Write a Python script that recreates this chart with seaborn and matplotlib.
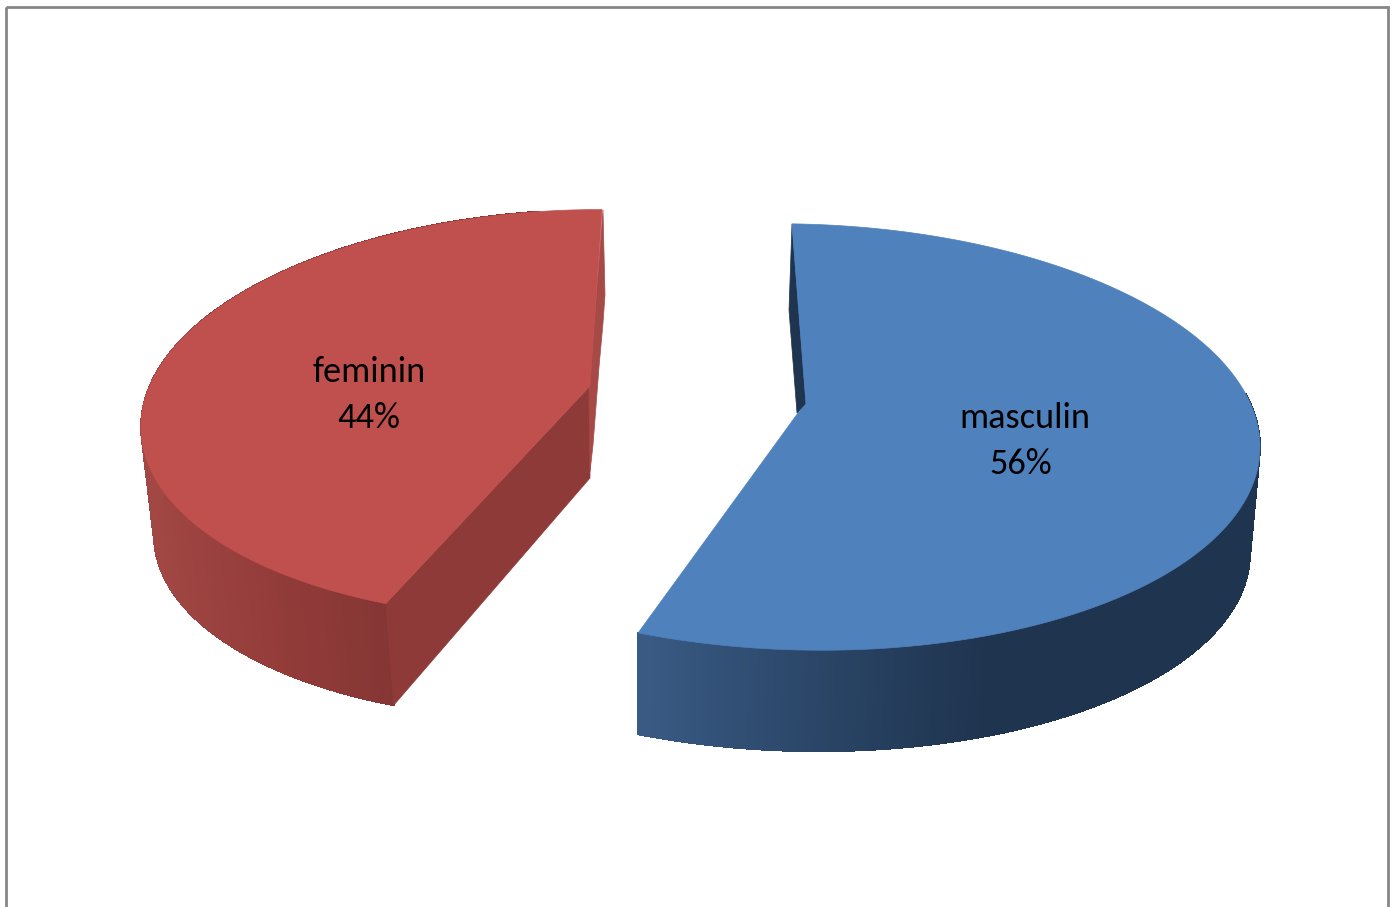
import numpy as np
import matplotlib
matplotlib.use("Agg")
import matplotlib.pyplot as plt
from matplotlib.patches import Polygon, Rectangle
import seaborn as sns

# Gender split of the respondents
labels = ["feminin", "masculin"]
shares = [44, 56]

sns.set_style("white")
family = ["Carlito", "Archivo Narrow", "Liberation Sans", "DejaVu Sans"]

W, H = 1396, 907
fig = plt.figure(figsize=(W / 100, H / 100), dpi=100)
ax = fig.add_axes([0, 0, 1, 1])
ax.set_xlim(0, W)
ax.set_ylim(H, 0)
ax.axis("off")

ax.add_patch(Rectangle((5.5, 7), 1382.5, 950, fill=False, ec="#868686", lw=2.0))


def ring(ell, t):
    # ellipse with a small tilt, the outer side of each slice sags toward the viewer
    cx, cy, a, b, tilt = ell
    r = np.radians(t)
    return np.column_stack([cx + a * np.cos(r), cy - b * np.sin(r) + tilt * np.cos(r)])


def draw_slice(share, start, direction, top, bottom, base, side_cols, span_x,
               face, inner, back, pad, face_pts, back_pts):
    sweep = share * 3.6
    t_rim = np.linspace(start, start + direction * sweep, 240)
    # the wall runs on past the visible rim so the silhouette closes behind the top face
    t_side = np.linspace(start + direction * sweep, start + direction * (sweep - pad), 300)
    up, lo = ring(top, t_side), ring(bottom, t_side)
    pal = sns.blend_palette(side_cols, 64)
    for i in range(len(t_side) - 1):
        xm = (up[i, 0] + up[i + 1, 0]) / 2
        k = int(np.clip((xm - span_x[0]) / (span_x[1] - span_x[0]), 0, 1) * 63)
        ax.add_patch(Polygon([up[i], up[i + 1], lo[i + 1], lo[i]], fc=pal[k], ec=pal[k],
                             lw=0.6, antialiased=False))
    end_up, end_lo = ring(top, t_rim[-1:])[0], ring(bottom, t_rim[-1:])[0]
    if inner is not None:
        ax.add_patch(Polygon([face_pts[0], end_up, end_lo, base], fc=inner, ec=inner, lw=0.5))
    ax.add_patch(Polygon(back_pts, fc=back, ec=back, lw=0.5))
    rim = ring(top, t_rim)
    ax.add_patch(Polygon(np.vstack([face_pts, rim]), fc=face, ec=face, lw=0.5))


# feminin: rim runs anticlockwise from the top, inner wall faces the gap
draw_slice(shares[0], 86, 1,
           (572, 414, 431, 204, -13), (576, 522, 422, 197, -13),
           (590, 478),
           ["#A14744", "#933C3A", "#843634"], (145, 390),
           "#C0504D", "#8E3A38", "#A64A47", 150,
           [(590, 386)],
           [(603, 210), (605, 295), (603, 323), (599, 367), (593, 445), (590, 472), (589, 390)])

# masculin: rim runs clockwise from the top
draw_slice(shares[1], 91, -1,
           (800, 437, 460, 213, 10), (797, 543, 453, 208, 10),
           (800, 412),
           ["#3A5B85", "#2B4668", "#1F344F"], (637, 985),
           "#4F81BD", None, "#1F344F", 125,
           [(798, 413), (806, 404)],
           [(792, 224), (789, 310), (797, 413), (806, 405)])

# Slice captions
spots = [((369, 372), (369, 418)), ((1025, 418), (1021, 464))]
for lab, val, (p_name, p_val) in zip(labels, shares, spots):
    ax.text(*p_name, lab, ha="center", va="center", fontsize=26.2, family=family, color="black")
    ax.text(*p_val, f"{val}%", ha="center", va="center", fontsize=26.2, family=family, color="black")

fig.savefig("out.png", dpi=100, facecolor="white")
